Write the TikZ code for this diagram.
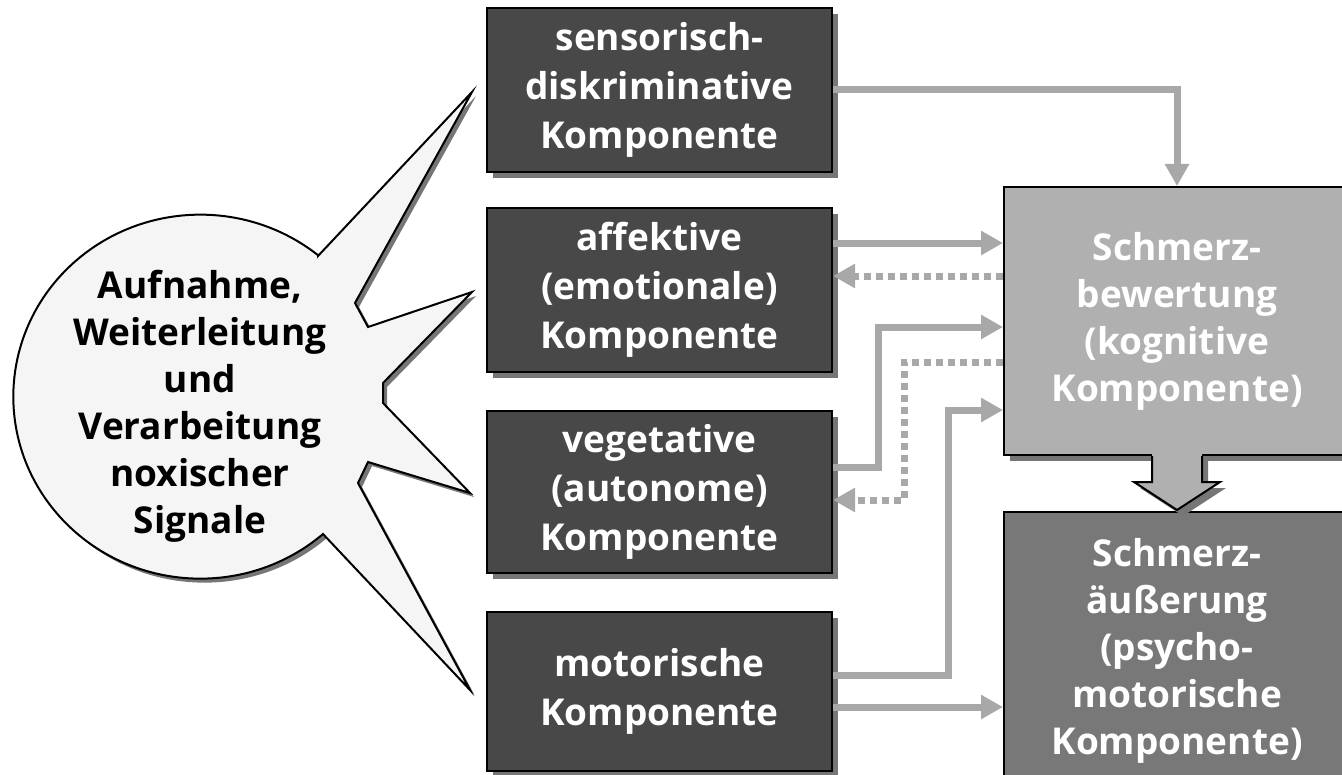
\documentclass[tikz,border=0pt]{standalone}
\usepackage{fontspec}
\setmainfont{Open Sans}
\usepackage{tikz}
\usetikzlibrary{positioning, arrows.meta, shadows}
\definecolor{compdark}{RGB}{72,72,72}
\definecolor{bewertgray}{RGB}{176,176,176}
\definecolor{aeussgray}{RGB}{120,120,120}
\definecolor{shadowgray}{RGB}{118,118,118}
\definecolor{conngray}{RGB}{168,168,168}
\definecolor{bubblegray}{RGB}{245,245,245}

\tikzset{
  boxshadow/.style={drop shadow={shadow xshift=3pt, shadow yshift=-3pt, fill=shadowgray, opacity=1}},
  comp/.style={draw=black, line width=1pt, fill=compdark, text=white, align=center,
    minimum width=172.5pt, inner sep=2pt, boxshadow},
  conn/.style={draw=conngray, line width=3.5pt, -{Triangle[length=11pt,width=11.5pt]}},
  dotconn/.style={conn, dash pattern=on 3.5pt off 2.5pt},
}

\begin{document}
\begin{tikzpicture}[x=0.5pt, y=-0.5pt, every node/.style={font=\bfseries\fontsize{18.5}{24.5}\selectfont}]
        \useasboundingbox (0,0) rectangle (1342,775);

        % Speech bubble
        \filldraw[fill=bubblegray, draw=black, line width=1pt,
          drop shadow={shadow xshift=2pt, shadow yshift=-2pt, fill=shadowgray, opacity=1}]
          (318,256) -- (472,92) -- (355,303) -- (368,327) -- (472,292) -- (383,383) -- (383,403)
          -- (470,493) -- (368,462) -- (358,483) -- (470,690) -- (323,534)
          arc[start angle=49, end angle=309, x radius=187, y radius=182] -- cycle;
        \node[align=center, font=\bfseries\fontsize{18.5}{23.5}\selectfont] (signal) at (200,406)
          {Aufnahme,\\Weiterleitung\\und\\Verarbeitung\\noxischer\\Signale};

        % Component boxes
        \node[comp, minimum height=82pt] (sensor) at (659.5,90) {sensorisch-\\diskriminative\\Komponente};
        \node[comp, minimum height=82pt] (affekt) at (659.5,290) {affektive\\(emotionale)\\Komponente};
        \node[comp, minimum height=81pt] (veget) at (659.5,492) {vegetative\\(autonome)\\Komponente};
        \node[comp, minimum height=79.5pt] (motor) at (659.5,691.5) {motorische\\Komponente};

        % Evaluation and expression
        \node[comp, fill=bewertgray, minimum width=173pt, minimum height=134pt,
          font=\bfseries\fontsize{18.5}{23.5}\selectfont] (bewert) at (1177,321)
          {Schmerz-\\bewertung\\(kognitive\\Komponente)};
        \node[comp, fill=aeussgray, minimum width=173pt, minimum height=139pt,
          font=\bfseries\fontsize{18.5}{23.5}\selectfont] (aeuss) at (1177,651)
          {Schmerz-\\äußerung\\(psycho-\\motorische\\Komponente)};

        % Block arrow
        \fill[bewertgray, boxshadow] (1152,452) -- (1152,482) -- (1134,482) -- (1177,510)
          -- (1220,482) -- (1202,482) -- (1202,452) -- cycle;
        \draw[line width=1pt] (1152,456) -- (1152,482) -- (1134,482) -- (1177,510)
          -- (1220,482) -- (1202,482) -- (1202,456);

        % Connectors
        \draw[conn] (sensor.east) -| (bewert.north);
        \draw[conn] (affekt.east |- 0,243) -- (bewert.west |- 0,243);
        \draw[dotconn] (bewert.west |- 0,276) -- (affekt.east |- 0,276);
        \draw[conn] (veget.east |- 0,467) -- (878,467) -- (878,327) -- (bewert.west |- 0,327);
        \draw[dotconn] (bewert.west |- 0,362) -- (904,362) -- (904,500) -- (veget.east |- 0,500);
        \draw[conn] (motor.east |- 0,675) -- (948,675) -- (948,410) -- (bewert.west |- 0,410);
        \draw[conn] (motor.east |- 0,707) -- (aeuss.west |- 0,707);
    \end{tikzpicture}
\end{document}
